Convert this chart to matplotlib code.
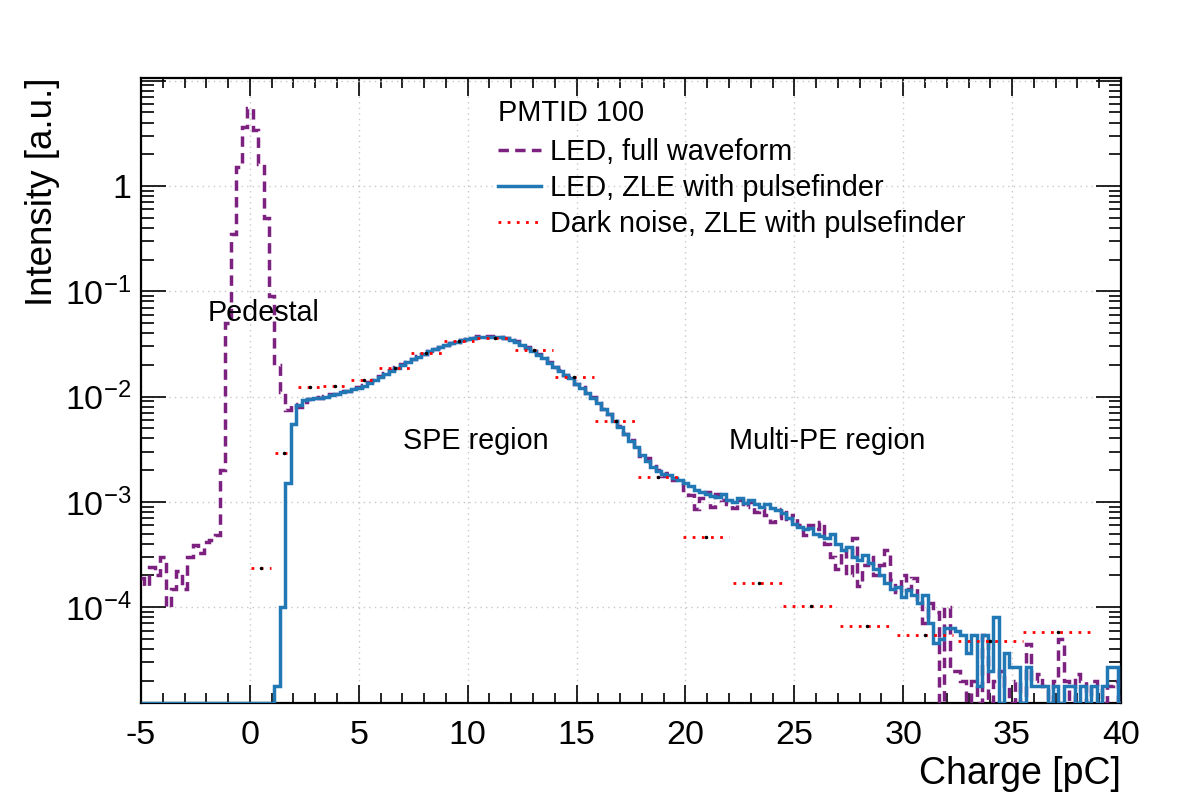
"""
PMT charge spectrum (ROOT-like look): LED full waveform vs ZLE pulsefinder,
plus dark noise with variable-width bins.
"""
import numpy as np
import matplotlib
matplotlib.use('Agg')
import matplotlib.pyplot as plt
from matplotlib.ticker import MultipleLocator, FixedLocator, NullFormatter

plt.rcParams['font.family'] = ['Liberation Sans', 'DejaVu Sans']
plt.rcParams['mathtext.fontset'] = 'custom'
plt.rcParams['mathtext.rm'] = 'Liberation Sans'
plt.rcParams['mathtext.it'] = 'Liberation Sans:italic'

# ---- data ----
charge_min, charge_max, bin_width = -5.0, 40.0, 0.25

# LED, full waveform (one value per 0.25 pC bin, centres -5 ... 40)
led_full = [
    1.9e-4, 1.6e-4, 2.4e-4, 2.0e-4,        # -5.0
    3.0e-4, 1.0e-4, 1.5e-4, 2.2e-4,        # -4.0
    1.5e-4, 3.0e-4, 3.9e-4, 3.3e-4,        # -3.0
    4.2e-4, 4.3e-4, 4.8e-4, 2.0e-3,        # -2.0
    5.0e-2, 0.35, 1.5, 3.6,                # -1.0
    5.5, 3.4, 1.6, 0.5,                    # 0.0
    0.09, 0.02, 0.011, 0.0075,             # 1.0
    0.0085, 8.0e-3, 8.8e-3, 9.4e-3,        # 2.0
    9.8e-3, 9.6e-3, 1.02e-2, 1.05e-2,      # 3.0
    1.06e-2, 1.12e-2, 1.14e-2, 1.15e-2,    # 4.0
    1.23e-2, 1.3e-2, 1.38e-2, 1.44e-2,     # 5.0
    1.58e-2, 1.67e-2, 1.78e-2, 1.9e-2,     # 6.0
    2.03e-2, 2.12e-2, 2.28e-2, 2.42e-2,    # 7.0
    2.55e-2, 2.7e-2, 2.83e-2, 2.96e-2,     # 8.0
    3.1e-2, 3.2e-2, 3.33e-2, 3.45e-2,      # 9.0
    3.55e-2, 3.6e-2, 3.72e-2, 3.7e-2,      # 10.0
    3.75e-2, 3.72e-2, 3.66e-2, 3.62e-2,    # 11.0
    3.46e-2, 3.35e-2, 3.15e-2, 2.95e-2,    # 12.0
    2.7e-2, 2.55e-2, 2.32e-2, 2.15e-2,     # 13.0
    1.92e-2, 1.78e-2, 1.6e-2, 1.52e-2,     # 14.0
    1.33e-2, 1.22e-2, 1.08e-2, 1.0e-2,     # 15.0
    8.6e-3, 7.7e-3, 6.9e-3, 5.8e-3,        # 16.0
    5.3e-3, 4.4e-3, 3.9e-3, 3.4e-3,        # 17.0
    2.7e-3, 2.6e-3, 2.2e-3, 2.0e-3,        # 18.0
    1.75e-3, 1.9e-3, 1.6e-3, 1.5e-3,       # 19.0
    1.3e-3, 1.15e-3, 8.5e-4, 1.1e-3,       # 20.0
    1.25e-3, 9.0e-4, 1.2e-3, 1.05e-3,      # 21.0
    9.5e-4, 8.7e-4, 1.05e-3, 9.0e-4,       # 22.0
    1.0e-3, 8.0e-4, 8.5e-4, 7.5e-4,        # 23.0
    6.5e-4, 7.0e-4, 8.5e-4, 6.5e-4,        # 24.0
    7.5e-4, 6.0e-4, 4.8e-4, 6.0e-4,        # 25.0
    5.5e-4, 6.5e-4, 4.0e-4, 3.0e-4,        # 26.0
    2.3e-4, 3.5e-4, 2.0e-4, 4.5e-4,        # 27.0
    1.6e-4, 2.5e-4, 3.0e-4, 2.0e-4,        # 28.0
    2.5e-4, 3.5e-4, 1.8e-4, 1.4e-4,        # 29.0
    2.0e-4, 1.5e-4, 1.9e-4, 1.2e-4,        # 30.0
    7.0e-5, 1.1e-4, 9.0e-5, 0.0,           # 31.0
    1.0e-4, 2.5e-5, 2.5e-5, 2.0e-5,        # 32.0
    0.0, 2.0e-5, 0.0, 5.5e-5,              # 33.0
    0.0, 2.0e-5, 2.5e-5, 1.8e-5,           # 34.0
    0.0, 2.0e-5, 0.0, 4.5e-5,              # 35.0
    2.0e-5, 2.3e-5, 1.8e-5, 0.0,           # 36.0
    2.0e-5, 5.0e-5, 2.0e-5, 0.0,           # 37.0
    2.3e-5, 2.0e-5, 0.0, 2.0e-5,           # 38.0
    1.8e-5, 0.0, 1.8e-5, 2.0e-5,           # 39.0
    0.0,                                   # 40.0
]

# LED, ZLE with pulsefinder (same binning)
led_zle = [
    0.0, 0.0, 0.0, 0.0,                    # -5.0
    0.0, 0.0, 0.0, 0.0,                    # -4.0
    0.0, 0.0, 0.0, 0.0,                    # -3.0
    0.0, 0.0, 0.0, 0.0,                    # -2.0
    0.0, 0.0, 0.0, 0.0,                    # -1.0
    0.0, 0.0, 0.0, 0.0,                    # 0.0
    0.0, 1.8e-5, 1.0e-4, 1.5e-3,           # 1.0
    5.5e-3, 8.3e-3, 9.3e-3, 9.5e-3,        # 2.0
    9.6e-3, 9.7e-3, 1.0e-2, 1.03e-2,       # 3.0
    1.06e-2, 1.1e-2, 1.13e-2, 1.17e-2,     # 4.0
    1.21e-2, 1.27e-2, 1.35e-2, 1.45e-2,    # 5.0
    1.55e-2, 1.65e-2, 1.76e-2, 1.88e-2,    # 6.0
    2.0e-2, 2.12e-2, 2.25e-2, 2.4e-2,      # 7.0
    2.55e-2, 2.68e-2, 2.82e-2, 2.95e-2,    # 8.0
    3.07e-2, 3.2e-2, 3.32e-2, 3.42e-2,     # 9.0
    3.52e-2, 3.6e-2, 3.66e-2, 3.7e-2,      # 10.0
    3.71e-2, 3.7e-2, 3.66e-2, 3.58e-2,     # 11.0
    3.46e-2, 3.3e-2, 3.12e-2, 2.92e-2,     # 12.0
    2.7e-2, 2.5e-2, 2.32e-2, 2.1e-2,       # 13.0
    1.92e-2, 1.75e-2, 1.62e-2, 1.5e-2,     # 14.0
    1.33e-2, 1.2e-2, 1.08e-2, 9.7e-3,      # 15.0
    8.6e-3, 7.6e-3, 6.8e-3, 5.9e-3,        # 16.0
    5.1e-3, 4.4e-3, 3.8e-3, 3.3e-3,        # 17.0
    2.8e-3, 2.45e-3, 2.15e-3, 1.95e-3,     # 18.0
    1.85e-3, 1.8e-3, 1.7e-3, 1.62e-3,      # 19.0
    1.5e-3, 1.4e-3, 1.3e-3, 1.25e-3,       # 20.0
    1.2e-3, 1.14e-3, 1.12e-3, 1.2e-3,      # 21.0
    1.05e-3, 1.0e-3, 1.08e-3, 9.8e-4,      # 22.0
    1.05e-3, 9.5e-4, 9.0e-4, 9.6e-4,       # 23.0
    8.8e-4, 8.3e-4, 7.8e-4, 7.0e-4,        # 24.0
    6.2e-4, 5.8e-4, 5.5e-4, 5.6e-4,        # 25.0
    4.9e-4, 4.7e-4, 4.5e-4, 5.0e-4,        # 26.0
    4.0e-4, 3.5e-4, 3.7e-4, 3.0e-4,        # 27.0
    2.8e-4, 3.1e-4, 2.6e-4, 2.3e-4,        # 28.0
    2.0e-4, 1.7e-4, 1.5e-4, 1.55e-4,       # 29.0
    1.25e-4, 1.45e-4, 1.3e-4, 1.1e-4,      # 30.0
    1.3e-4, 7.0e-5, 4.6e-5, 5.0e-5,        # 31.0
    6.3e-5, 6.3e-5, 6.0e-5, 5.5e-5,        # 32.0
    3.7e-5, 5.5e-5, 1.8e-5, 5.5e-5,        # 33.0
    2.5e-5, 8.1e-5, 0.0, 3.7e-5,           # 34.0
    2.7e-5, 2.7e-5, 0.0, 2.7e-5,           # 35.0
    1.8e-5, 1.8e-5, 1.8e-5, 0.0,           # 36.0
    1.8e-5, 0.0, 1.8e-5, 1.8e-5,           # 37.0
    0.0, 1.8e-5, 0.0, 1.8e-5,              # 38.0
    0.0, 1.8e-5, 2.7e-5, 2.7e-5,           # 39.0
    0.0,                                   # 40.0
]

# Dark noise, ZLE with pulsefinder (variable-width bins)
dark_x = [0.5, 1.55, 2.75, 3.9, 5.25, 6.65, 8.1, 9.6, 11.25, 13.05,
          14.9, 16.8, 18.75, 20.95, 23.4, 25.75, 28.35, 31.0, 34.0, 37.1]
dark_halfwidth = [0.45, 0.42, 0.55, 0.55, 0.62, 0.7, 0.7, 0.68, 0.8, 0.88,
                  0.88, 0.95, 0.95, 1.05, 1.2, 1.25, 1.25, 1.3, 1.5, 1.6]
dark_y = [2.35e-4, 2.9e-3, 1.22e-2, 1.26e-2, 1.44e-2, 1.86e-2, 2.62e-2,
          3.39e-2, 3.58e-2, 2.77e-2, 1.52e-2, 5.8e-3, 1.73e-3, 4.6e-4,
          1.69e-4, 1.03e-4, 6.6e-5, 5.5e-5, 4.8e-5, 5.76e-5]

y_ticks = [1e-4, 1e-3, 1e-2, 1e-1, 1]
y_ticklabels = ['$10^{-4}$', '$10^{-3}$', '$10^{-2}$', '$10^{-1}$', '1']

# ---- figure ----
Y_MIN, Y_MAX = 1.23e-5, 10.6
PURPLE = '#7d2181'
BLUE = '#2178b5'

centres = np.arange(charge_min, charge_max + 1e-9, bin_width)
edges = np.concatenate([[charge_min], centres[:-1] + bin_width / 2, [charge_max]])
assert len(led_full) == len(centres) and len(led_zle) == len(centres)

fig = plt.figure(figsize=(11.82, 8.0), dpi=100)
ax = fig.add_axes([0.1193, 0.12125, 0.8291, 0.78125])

ax.stairs(np.clip(led_full, Y_MIN, None), edges, baseline=None,
          color=PURPLE, lw=2.5, linestyle=(0, (3.0, 1.8)), zorder=3,
          label='LED, full waveform')
ax.stairs(np.clip(led_zle, Y_MIN, None), edges, baseline=None,
          color=BLUE, lw=2.5, zorder=4, label='LED, ZLE with pulsefinder')

dx = np.array(dark_x)
hw = np.array(dark_halfwidth)
ax.hlines(dark_y, dx - hw, dx + hw, colors='red', linestyles=(0, (1, 2.3)),
          lw=2.0, zorder=5, label='Dark noise, ZLE with pulsefinder')
ax.plot(dark_x, dark_y, ls='none', marker='.', ms=3, color='black', zorder=6)

ax.set_yscale('log')
ax.set_xlim(charge_min, charge_max)
ax.set_ylim(Y_MIN, Y_MAX)

ax.xaxis.set_major_locator(MultipleLocator(5))
ax.xaxis.set_minor_locator(MultipleLocator(1))
ax.set_xticks(ax.get_xticks())
ax.set_xticklabels([f'{t:g}' for t in ax.get_xticks()])
ax.set_xlim(charge_min, charge_max)

ax.set_yticks(y_ticks + [10], y_ticklabels + [''])
minors = [m * 10.0 ** d for d in range(-5, 1) for m in range(2, 10)]
ax.yaxis.set_minor_locator(FixedLocator(minors))
ax.yaxis.set_minor_formatter(NullFormatter())
ax.set_ylim(Y_MIN, Y_MAX)

ax.tick_params(which='both', direction='in', top=True, right=True,
               colors='black', labelsize=24.5, width=1.2)
ax.tick_params(axis='x', which='major', length=13, pad=12)
ax.tick_params(axis='x', which='minor', length=7)
ax.tick_params(axis='y', which='major', length=18, pad=7)
ax.tick_params(axis='y', which='minor', length=9)
for s in ax.spines.values():
    s.set_linewidth(1.6)

ax.grid(True, which='major', color='#c8c8c8', linestyle=(0, (1, 3)), lw=1.0)
ax.set_axisbelow(True)

ax.set_xlabel('Charge [pC]', fontsize=27, loc='right')
ax.xaxis.set_label_coords(1.0, -0.085)
ax.set_ylabel('Intensity [a.u.]', fontsize=26.5, loc='top')
ax.yaxis.set_label_coords(-0.083, 1.0)

ax.text(-1.95, 0.062, 'Pedestal', fontsize=20.7, va='center', ha='left')
ax.text(7.05, 3.8e-3, 'SPE region', fontsize=20.7, va='center', ha='left')
ax.text(22.0, 3.8e-3, 'Multi-PE region', fontsize=20.7, va='center', ha='left')

leg = ax.legend(loc='upper left', bbox_to_anchor=(0.352, 0.985), frameon=False,
                title='PMTID 100', alignment='left', fontsize=20.8,
                title_fontsize=20.8, handlelength=1.5, handletextpad=0.3,
                labelspacing=0.28, borderaxespad=0.0)
leg._legend_box.sep = 8

fig.savefig('out.png', dpi=100)
